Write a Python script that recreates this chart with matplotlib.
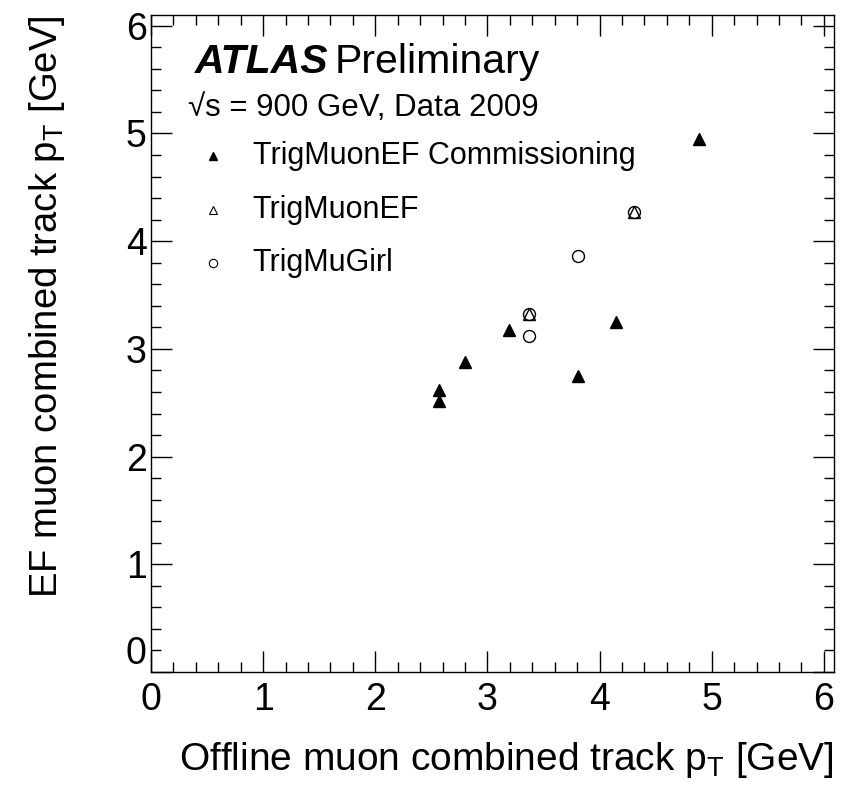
import numpy as np
import matplotlib
matplotlib.use("Agg")
import matplotlib.pyplot as plt
from matplotlib.ticker import MultipleLocator

plt.rcParams['font.family'] = ['Liberation Sans', 'DejaVu Sans']
plt.rcParams['mathtext.fontset'] = 'custom'
plt.rcParams['mathtext.rm'] = 'Liberation Sans'
plt.rcParams['mathtext.it'] = 'Liberation Sans:italic'

# offline pT vs EF pT, one pair of arrays per trigger algorithm
comm_x = [2.57, 2.57, 2.80, 3.19, 3.81, 4.15, 4.89]
comm_y = [2.62, 2.52, 2.88, 3.18, 2.75, 3.25, 4.95]

ef_x = [3.37, 4.31]
ef_y = [3.32, 4.27]

girl_x = [3.37, 3.37, 3.81, 4.31]
girl_y = [3.32, 3.12, 3.86, 4.27]

labels = ["TrigMuonEF Commissioning", "TrigMuonEF", "TrigMuGirl"]

fig = plt.figure(figsize=(8.61, 7.85), dpi=100)
ax = fig.add_axes([0.1754, 0.1439, 0.7932, 0.8370])

ax.plot(comm_x, comm_y, ls='none', marker='^', ms=8.6, color='black')
ax.plot(ef_x, ef_y, ls='none', marker='^', ms=8.6, mfc='none', mec='black', mew=1.0)
ax.plot(girl_x, girl_y, ls='none', marker='o', ms=8.6, mfc='none', mec='black', mew=1.0)

ax.set_xlim(0, 6.09)
ax.set_ylim(0, 6.1)

ax.set_xticks(range(7))
ax.set_yticks(range(7))
ax.xaxis.set_minor_locator(MultipleLocator(0.2))
ax.yaxis.set_minor_locator(MultipleLocator(0.2))
ax.tick_params(which='both', direction='in', top=True, right=True, width=1.0)
ax.tick_params(which='major', length=15)
ax.tick_params(which='minor', length=7.5)
ax.tick_params(axis='x', labelsize=27, pad=7)
ax.tick_params(axis='y', labelsize=27, pad=3)
for s in ax.spines.values():
    s.set_linewidth(1.0)

# lift the y-axis zero so it clears the x-axis zero
ax.yaxis.get_major_ticks()[0].label1.set_verticalalignment('bottom')

ax.set_xlabel(r'Offline muon combined track p$_\mathregular{T}$ [GeV]', fontsize=28)
ax.xaxis.set_label_coords(1.0, -0.103)
ax.xaxis.label.set_horizontalalignment('right')
ax.set_ylabel(r'EF muon combined track p$_\mathregular{T}$ [GeV]', fontsize=27.5)
ax.yaxis.set_label_coords(-0.182, 1.0)
ax.yaxis.label.set_verticalalignment('top')
ax.yaxis.label.set_horizontalalignment('right')

ax.text(0.0644, 0.912, 'ATLAS', transform=ax.transAxes, fontsize=29.5,
        fontweight='bold', fontstyle='italic')
ax.text(0.269, 0.912, 'Preliminary', transform=ax.transAxes, fontsize=29.5)
ax.text(0.054, 0.846, '\u221as = 900 GeV, Data 2009', transform=ax.transAxes, fontsize=22.5)

# hand-placed legend
rows = [0.785, 0.703, 0.622]
styles = [dict(marker='^', color='black', ms=5.5),
          dict(marker='^', mfc='none', mec='black', ms=5.5, mew=0.8),
          dict(marker='o', mfc='none', mec='black', ms=6, mew=0.8)]
for yy, lab, st in zip(rows, labels, styles):
    ax.plot([0.0908], [yy], ls='none', transform=ax.transAxes, clip_on=False, **st)
    ax.text(0.149, yy, lab, transform=ax.transAxes, fontsize=22, va='center')

fig.savefig('out.png', dpi=100)
